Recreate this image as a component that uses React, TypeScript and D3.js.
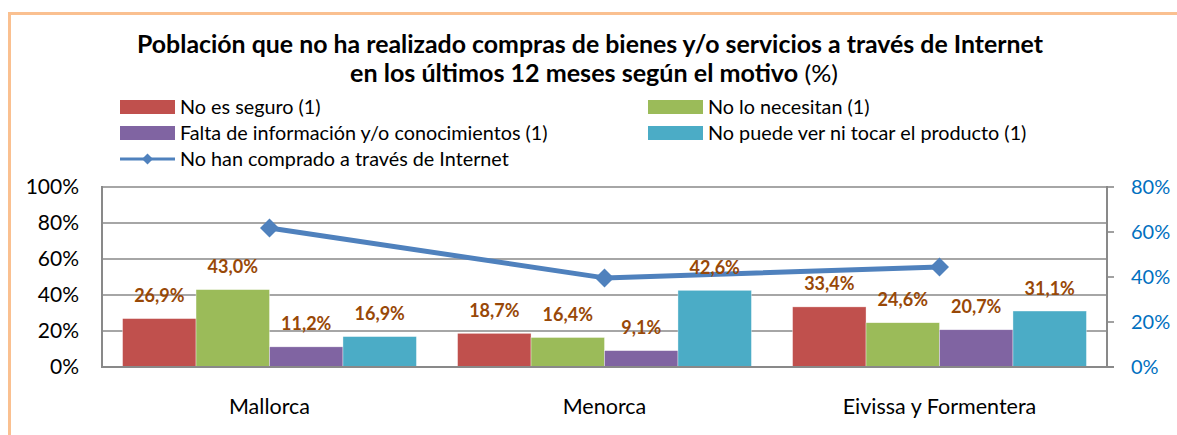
import React from "react";
import * as d3 from "d3";

const categories = ["Mallorca", "Menorca", "Eivissa y Formentera"];
const seriesNames = [
  "No es seguro (1)",
  "No lo necesitan (1)",
  "Falta de información y/o conocimientos (1)",
  "No puede ver ni tocar el producto (1)",
];
const noEsSeguro = [26.9, 18.7, 33.4];
const noLoNecesitan = [43.0, 16.4, 24.6];
const faltaInfo = [11.2, 9.1, 20.7];
const noPuedeVer = [16.9, 42.6, 31.1];
const lineName = "No han comprado a través de Internet";
const noHanComprado = [61.8, 39.6, 44.4];
const leftTicks = [0, 20, 40, 60, 80, 100];
const rightTicks = [0, 20, 40, 60, 80];
const titleLine1 = "Población que no ha realizado compras de bienes y/o servicios a través de Internet";
const titleLine2Bold = "en los últimos 12 meses según el motivo";
const titleLine2Rest = " (%)";

const barColors = ["#C0504D", "#9BBB59", "#8064A2", "#4BACC6"];
const lineColor = "#4F81BD";
const labelColor = "#984807";
const gridColor = "#898989";
const FONT = "Lato, 'Open Sans', sans-serif";

export default function App() {
  const W = 1177, H = 435;
  const left = 102, right = 1107, top = 187, bottom = 367;
  const seriesValues = [noEsSeguro, noLoNecesitan, faltaInfo, noPuedeVer];

  const x0 = d3.scaleBand<string>().domain(categories).range([left, right]).paddingInner(0).paddingOuter(0);
  const x1 = d3.scaleBand<number>().domain([0, 1, 2, 3]).range([0, x0.bandwidth()]).paddingInner(0).paddingOuter(0.28);
  const yL = d3.scaleLinear().domain([0, 100]).range([bottom, top]);
  const yR = d3.scaleLinear().domain([0, 80]).range([bottom, top]);

  const fmt = (v: number) => v.toFixed(1).replace(".", ",") + "%";

  const linePath = d3
    .line<number>()
    .x((_, i) => (x0(categories[i]) as number) + x0.bandwidth() / 2)
    .y((d) => yR(d))(noHanComprado) as string;

  const diamond = d3.symbol().type(d3.symbolSquare).size(180)() as string;
  const diamondSmall = d3.symbol().type(d3.symbolSquare).size(60)() as string;

  const legendItems = [
    { x: 120, y: 107, kind: "bar", color: barColors[0], label: seriesNames[0] },
    { x: 648, y: 107, kind: "bar", color: barColors[1], label: seriesNames[1] },
    { x: 120, y: 133, kind: "bar", color: barColors[2], label: seriesNames[2] },
    { x: 648, y: 133, kind: "bar", color: barColors[3], label: seriesNames[3] },
    { x: 120, y: 159, kind: "line", color: lineColor, label: lineName },
  ];

  return (
    <svg
      width={W}
      height={H}
      style={{ position: "absolute", left: 0, top: 0, background: "#fff" }}
      fontFamily={FONT}
    >
      <rect x={0} y={0} width={W} height={H} fill="#fff" />
      {/* frame */}
      <rect x={9.5} y={13.5} width={1300} height={600} fill="none" stroke="#FAC090" strokeWidth={3} />

      {/* title */}
      <text x={590} y={53} textAnchor="middle" fontSize={24} fontWeight="bold" fill="#000" textLength={906} lengthAdjust="spacingAndGlyphs">
        {titleLine1}
      </text>
      <text x={594} y={82} textAnchor="middle" fontSize={24} fill="#000" textLength={488} lengthAdjust="spacingAndGlyphs">
        <tspan fontWeight="bold">{titleLine2Bold}</tspan>
        <tspan>{titleLine2Rest}</tspan>
      </text>

      {/* legend */}
      {legendItems.map((it, i) => (
        <g key={i}>
          {it.kind === "bar" ? (
            <rect x={it.x} y={it.y - 7} width={55} height={14} fill={it.color} />
          ) : (
            <g>
              <line x1={it.x} x2={it.x + 55} y1={it.y} y2={it.y} stroke={it.color} strokeWidth={3} />
              <path d={diamondSmall} transform={`translate(${it.x + 27.5},${it.y}) rotate(45)`} fill={it.color} />
            </g>
          )}
          <text x={it.x + 60} y={it.y + 6.5} fontSize={19.8} fill="#000">
            {it.label}
          </text>
        </g>
      ))}

      {/* gridlines */}
      {leftTicks.map((t) => (
        <line key={t} x1={left} x2={right} y1={yL(t)} y2={yL(t)} stroke={gridColor} strokeWidth={1.6} />
      ))}

      {/* bars */}
      {categories.map((c, ci) => (
        <g key={c} transform={`translate(${x0(c)},0)`}>
          {seriesValues.map((vals, si) => (
            <rect
              key={si}
              x={x1(si) as number}
              y={yL(vals[ci])}
              width={x1.bandwidth()}
              height={bottom - yL(vals[ci])}
              fill={barColors[si]}
              stroke="#fff"
              strokeOpacity={0.6}
              strokeWidth={0.6}
            />
          ))}
        </g>
      ))}

      {/* axes */}
      <line x1={left} x2={left} y1={top - 1} y2={bottom + 1} stroke={gridColor} strokeWidth={2} />
      <line x1={left - 1} x2={right + 7} y1={bottom} y2={bottom} stroke={gridColor} strokeWidth={2} />
      <line x1={right} x2={right} y1={top - 1} y2={bottom + 1} stroke={gridColor} strokeWidth={2} />
      {rightTicks.map((t) => (
        <line key={t} x1={right} x2={right + 7} y1={yR(t)} y2={yR(t)} stroke={gridColor} strokeWidth={1.6} />
      ))}

      {/* line series */}
      <path d={linePath} fill="none" stroke={lineColor} strokeWidth={5} strokeLinejoin="round" />
      {noHanComprado.map((v, i) => (
        <path
          key={i}
          d={diamond}
          transform={`translate(${(x0(categories[i]) as number) + x0.bandwidth() / 2},${yR(v)}) rotate(45)`}
          fill={lineColor}
        />
      ))}

      {/* data labels */}
      {categories.map((c, ci) => (
        <g key={c} transform={`translate(${x0(c)},0)`}>
          {seriesValues.map((vals, si) => (
            <text
              key={si}
              x={(x1(si) as number) + x1.bandwidth() / 2}
              y={yL(vals[ci]) - 16.5}
              textAnchor="middle"
              fontSize={18}
              fontWeight="bold"
              fill={labelColor}
            >
              {fmt(vals[ci])}
            </text>
          ))}
        </g>
      ))}

      {/* left axis labels */}
      {leftTicks.map((t) => (
        <text key={t} x={79} y={yL(t) + 7} textAnchor="end" fontSize={21} fill="#000">
          {t + "%"}
        </text>
      ))}
      {/* right axis labels */}
      {rightTicks.map((t) => (
        <text key={t} x={1131} y={yR(t) + 7} textAnchor="start" fontSize={20} fill="#0070C0">
          {t + "%"}
        </text>
      ))}

      {/* category labels */}
      {categories.map((c) => (
        <text key={c} x={(x0(c) as number) + x0.bandwidth() / 2} y={414} textAnchor="middle" fontSize={21.5} fill="#000">
          {c}
        </text>
      ))}
    </svg>
  );
}
